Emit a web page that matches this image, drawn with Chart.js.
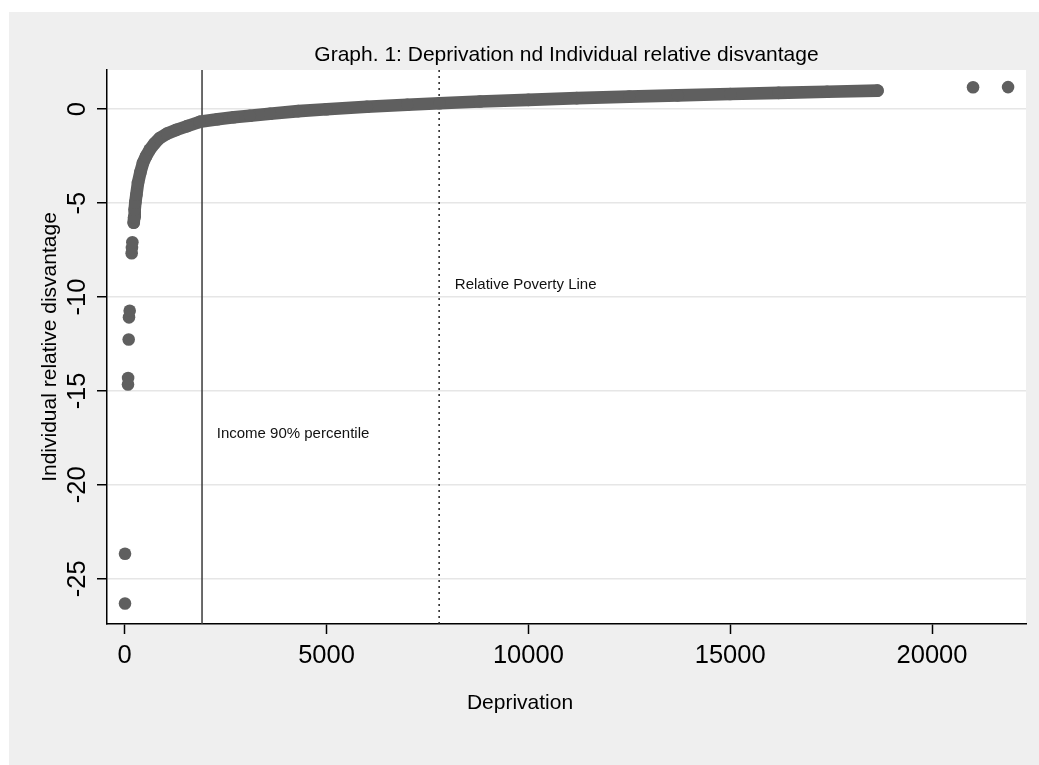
<!DOCTYPE html>
<html>
<head>
<meta charset="utf-8">
<script src="https://cdn.jsdelivr.net/npm/chart.js@4.4.0/dist/chart.umd.min.js"></script>
<style>
  html, body { margin: 0; padding: 0; background: #fff; }
  #fondo { position: absolute; left: 9px; top: 12px; width: 1030px; height: 753px; background: #efefef; }
  #caja { position: absolute; left: 0; top: 0; width: 1039px; height: 765px; }
</style>
</head>
<body>
<div id="fondo"></div>
<div id="caja"><canvas id="grafico"></canvas></div>
<script>
// main band of points (Deprivation, Individual relative disvantage)
const bandaX = [223, 235, 248, 265, 290, 330, 390, 454, 530, 620, 740, 867, 1050, 1280, 1550, 1860,
                2300, 2700, 3100, 3600, 4300, 5000, 6000, 7000, 7800, 8800, 10000, 11200, 12500,
                13700, 15000, 16200, 17400, 18650];
const bandaY = [-6.04, -5.75, -5.34, -4.95, -4.55, -3.92, -3.35, -2.86, -2.50, -2.16, -1.82, -1.54, -1.30, -1.10, -0.90, -0.67,
                -0.53, -0.43, -0.35, -0.24, -0.10, 0.00, 0.13, 0.24, 0.32, 0.41, 0.50, 0.59, 0.67,
                0.74, 0.81, 0.87, 0.93, 0.99];
// isolated points
const sueltosX = [8, 8, 82, 85, 99, 107, 124, 173, 180, 190, 21016, 21884];
const sueltosY = [-26.32, -23.67, -14.66, -14.31, -12.26, -11.08, -10.73, -7.67, -7.38, -7.08, 1.17, 1.18];

const xTicks = [0, 5000, 10000, 15000, 20000];
const yTicks = [-25, -20, -15, -10, -5, 0];

const lineaIngreso = 1916;   // Income 90% percentile
const lineaPobreza = 7790;   // Relative Poverty Line
const notas = [
    { texto: 'Income 90% percentile', x: 2280, y: -17.26 },
    { texto: 'Relative Poverty Line', x: 8178, y: -9.36 }
];

const fuente = '"Liberation Sans", Arial, sans-serif';
const gris = '#5f5f5f';

const lineasRef = {
    id: 'lineasRef',
    beforeDraw(chart) {
        // white plot region
        const {ctx, chartArea} = chart;
        ctx.save();
        ctx.fillStyle = '#fff';
        ctx.fillRect(chartArea.left, chartArea.top, chartArea.right - chartArea.left, chartArea.bottom - chartArea.top);
        ctx.restore();
    },
    beforeDatasetsDraw(chart) {
        const {ctx, chartArea, scales: {x}} = chart;
        ctx.save();
        ctx.lineWidth = 1.5;
        ctx.strokeStyle = '#3a3a3a';
        let px = x.getPixelForValue(lineaIngreso);
        ctx.beginPath();
        ctx.moveTo(px, chartArea.top);
        ctx.lineTo(px, chartArea.bottom);
        ctx.stroke();
        ctx.strokeStyle = '#222';
        ctx.setLineDash([2, 4]);
        px = x.getPixelForValue(lineaPobreza);
        ctx.beginPath();
        ctx.moveTo(px, chartArea.top);
        ctx.lineTo(px, chartArea.bottom);
        ctx.stroke();
        ctx.restore();
    },
    afterDatasetsDraw(chart) {
        const {ctx, scales: {x, y}} = chart;
        ctx.save();
        ctx.fillStyle = '#111';
        ctx.font = '15px ' + fuente;
        ctx.textAlign = 'left';
        ctx.textBaseline = 'middle';
        notas.forEach(n => {
            ctx.fillText(n.texto, x.getPixelForValue(n.x), y.getPixelForValue(n.y));
        });
        // x axis title
        ctx.fillStyle = '#000';
        ctx.font = '21px ' + fuente;
        ctx.textAlign = 'center';
        ctx.fillText('Deprivation', 520, 703);
        ctx.restore();
    }
};

const grafico = document.getElementById('grafico').getContext('2d');
const chart = new Chart(grafico, {
    type: 'scatter',
    data: {
        datasets: [{
            data: bandaX.map((v, i) => ({x: v, y: bandaY[i]})),
            showLine: true,
            borderColor: gris,
            backgroundColor: gris,
            borderWidth: 12.6,
            borderJoinStyle: 'round',
            borderCapStyle: 'round',
            pointRadius: 6.3,
            pointBorderWidth: 0
        }, {
            data: sueltosX.map((v, i) => ({x: v, y: sueltosY[i]})),
            backgroundColor: gris,
            borderColor: gris,
            pointRadius: 6.3,
            pointBorderWidth: 0
        }]
    },
    options: {
        responsive: true,
        maintainAspectRatio: false,
        animation: false,
        layout: { padding: { top: 0, right: 13, bottom: 0, left: 0 } },
        plugins: {
            legend: { display: false },
            tooltip: { enabled: false },
            title: {
                display: true,
                fullSize: false,
                text: 'Graph. 1: Deprivation nd Individual relative disvantage',
                color: '#000',
                font: { family: fuente, size: 21, weight: 'normal' },
                padding: { top: 42.5, bottom: 2.3 }
            }
        },
        scales: {
            x: {
                type: 'linear',
                min: -438,
                max: 22328,
                afterBuildTicks: s => { s.ticks = xTicks.map(v => ({value: v})); },
                afterFit: s => { s.height = 141; },
                grid: { drawOnChartArea: false, tickLength: 10, tickWidth: 1.5, tickColor: '#000' },
                border: { color: '#000', width: 1.5 },
                ticks: {
                    autoSkip: false, maxRotation: 0, padding: 6.5, color: '#000',
                    font: { family: fuente, size: 25.5 },
                    callback: v => String(v)
                }
            },
            y: {
                type: 'linear',
                min: -27.41,
                max: 2.09,
                afterBuildTicks: s => { s.ticks = yTicks.map(v => ({value: v})); },
                afterFit: s => { s.width = 107; },
                grid: { color: '#e6e6e6', lineWidth: 1.5, tickLength: 10, tickWidth: 1.5, tickColor: '#000' },
                border: { color: '#000', width: 1.5 },
                ticks: {
                    autoSkip: false, minRotation: 90, maxRotation: 90, crossAlign: 'center', padding: 1,
                    color: '#000', font: { family: fuente, size: 25.5 },
                    callback: v => String(v)
                },
                title: {
                    display: true,
                    text: 'Individual relative disvantage',
                    color: '#000',
                    font: { family: fuente, size: 21 },
                    padding: { top: 37.4, bottom: 0 }
                }
            }
        }
    },
    plugins: [lineasRef]
});
</script>
</body>
</html>
